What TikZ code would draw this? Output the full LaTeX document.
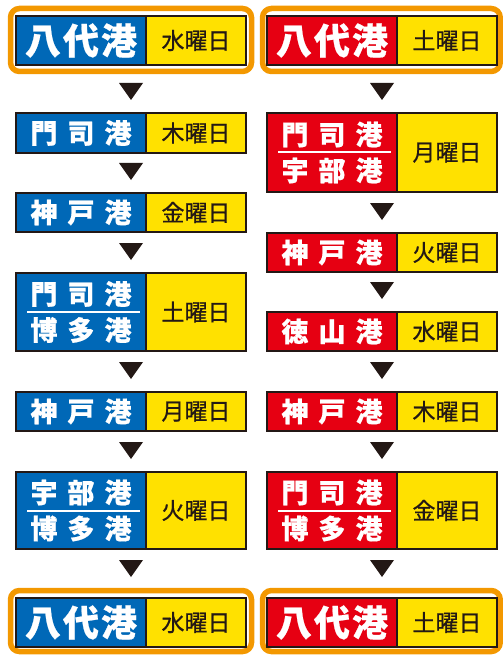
\documentclass[tikz,border=0pt]{standalone}
\usepackage{fontspec}
\newfontfamily\jp{Noto Sans CJK JP}[BoldFeatures={FakeBold=0.6}]
\newfontfamily\jpd{Noto Sans CJK JP}[FakeBold=0.7]
\definecolor{pblue}{HTML}{0068B7}
\definecolor{pred}{HTML}{E60012}
\definecolor{pyel}{HTML}{FFE100}
\definecolor{porange}{HTML}{F39800}
\definecolor{pdark}{HTML}{231815}
\tikzset{
  edge/.style={draw=pdark, line width=2pt},
  oframe/.style={draw=porange, line width=5.5pt, rounded corners=9pt, fill=white},
  porttxt/.style={text=white, font=\jp\bfseries\fontsize{27}{30}\selectfont, inner sep=0pt},
  bigtxt/.style={text=white, font=\jp\bfseries\fontsize{36}{38}\selectfont, inner sep=0pt},
  daytxt/.style={text=pdark, font=\jpd\fontsize{23}{26}\selectfont, inner sep=0pt},
  sepline/.style={draw=white, line width=2pt},
  tri/.style={fill=pdark}
}
% panel: name, x-left, y-top, y-bottom, colour, day
\newcommand\panel[6]{%
  \fill[#5] (#2,#3) rectangle ({#2+130},#4);
  \fill[pyel] ({#2+130},#3) rectangle ({#2+230},#4);
  \draw[edge] (#2,#3) rectangle ({#2+230},#4);
  \draw[edge] ({#2+130},#3) -- ({#2+130},#4);
  \node[daytxt] (#1d) at ({#2+180},{(#3+#4)/2}) {#6};
}
% port text: name, x, y, style, text
\newcommand\ptext[5]{%
  \node[#4] (#1) at ({#2},{#3}) {#5};
}
\newcommand\spc[3]{#1\hspace{10pt}#2\hspace{10pt}#3}
\newcommand\bgt[3]{#1\hspace{2pt}#2\hspace{2pt}#3}
\newcommand\onep[5]{% name, x-left, ytop, ybot, text
  \ptext{#1p}{#2+65}{(#3+#4)/2}{porttxt}{#5}}
\newcommand\twop[6]{% name, x-left, ytop, ybot, text1, text2
  \ptext{#1pa}{#2+65}{(#3+#4)/2-18}{porttxt}{#5}
  \ptext{#1pb}{#2+65}{(#3+#4)/2+18}{porttxt}{#6}
  \draw[sepline] ({#2+11},{(#3+#4)/2}) -- ({#2+124},{(#3+#4)/2});}
\newcommand\tri[2]{\fill[tri] ({#1-12},#2) -- ({#1+12},#2) -- (#1,{#2+17}) -- cycle;}
\begin{document}
\begin{tikzpicture}[x=1pt,y=-1pt]
\useasboundingbox (0,0) rectangle (503,655);
% orange frames
\draw[oframe] (10.5,8.5) rectangle (251.5,71.5);
\draw[oframe] (262.5,8.5) rectangle (500.2,71.5);
\draw[oframe] (10.5,590.5) rectangle (251.5,651.5);
\draw[oframe] (262.5,590.5) rectangle (500.2,651.5);
% ---- left column ----
\panel{L1}{16}{16}{65}{pblue}{水曜日}
\ptext{L1p}{81}{40.5}{bigtxt}{\bgt{八}{代}{港}}
\panel{L2}{16}{113}{153}{pblue}{木曜日}
\onep{L2}{16}{113}{153}{\spc{門}{司}{港}}
\panel{L3}{16}{193}{232}{pblue}{金曜日}
\onep{L3}{16}{193}{232}{\spc{神}{戸}{港}}
\panel{L4}{16}{273}{351}{pblue}{土曜日}
\twop{L4}{16}{273}{351}{\spc{門}{司}{港}}{\spc{博}{多}{港}}
\panel{L5}{16}{392}{431}{pblue}{月曜日}
\onep{L5}{16}{392}{431}{\spc{神}{戸}{港}}
\panel{L6}{16}{472}{549}{pblue}{火曜日}
\twop{L6}{16}{472}{549}{\spc{宇}{部}{港}}{\spc{博}{多}{港}}
\panel{L7}{16}{598}{647}{pblue}{水曜日}
\ptext{L7p}{81}{622.5}{bigtxt}{\bgt{八}{代}{港}}
\tri{131}{83}\tri{131}{163}\tri{131}{243}\tri{131}{362}\tri{131}{442}\tri{131}{560}
% ---- right column ----
\panel{R1}{267}{16}{65}{pred}{土曜日}
\ptext{R1p}{332}{40.5}{bigtxt}{\bgt{八}{代}{港}}
\panel{R2}{267}{113}{192}{pred}{月曜日}
\twop{R2}{267}{113}{192}{\spc{門}{司}{港}}{\spc{宇}{部}{港}}
\panel{R3}{267}{233}{272}{pred}{火曜日}
\onep{R3}{267}{233}{272}{\spc{神}{戸}{港}}
\panel{R4}{267}{312}{351}{pred}{水曜日}
\onep{R4}{267}{312}{351}{\spc{徳}{山}{港}}
\panel{R5}{267}{392}{431}{pred}{木曜日}
\onep{R5}{267}{392}{431}{\spc{神}{戸}{港}}
\panel{R6}{267}{472}{549}{pred}{金曜日}
\twop{R6}{267}{472}{549}{\spc{門}{司}{港}}{\spc{博}{多}{港}}
\panel{R7}{267}{598}{647}{pred}{土曜日}
\ptext{R7p}{332}{622.5}{bigtxt}{\bgt{八}{代}{港}}
\tri{382}{83}\tri{382}{203}\tri{382}{282}\tri{382}{362}\tri{382}{442}\tri{382}{560}
\end{tikzpicture}
\end{document}
